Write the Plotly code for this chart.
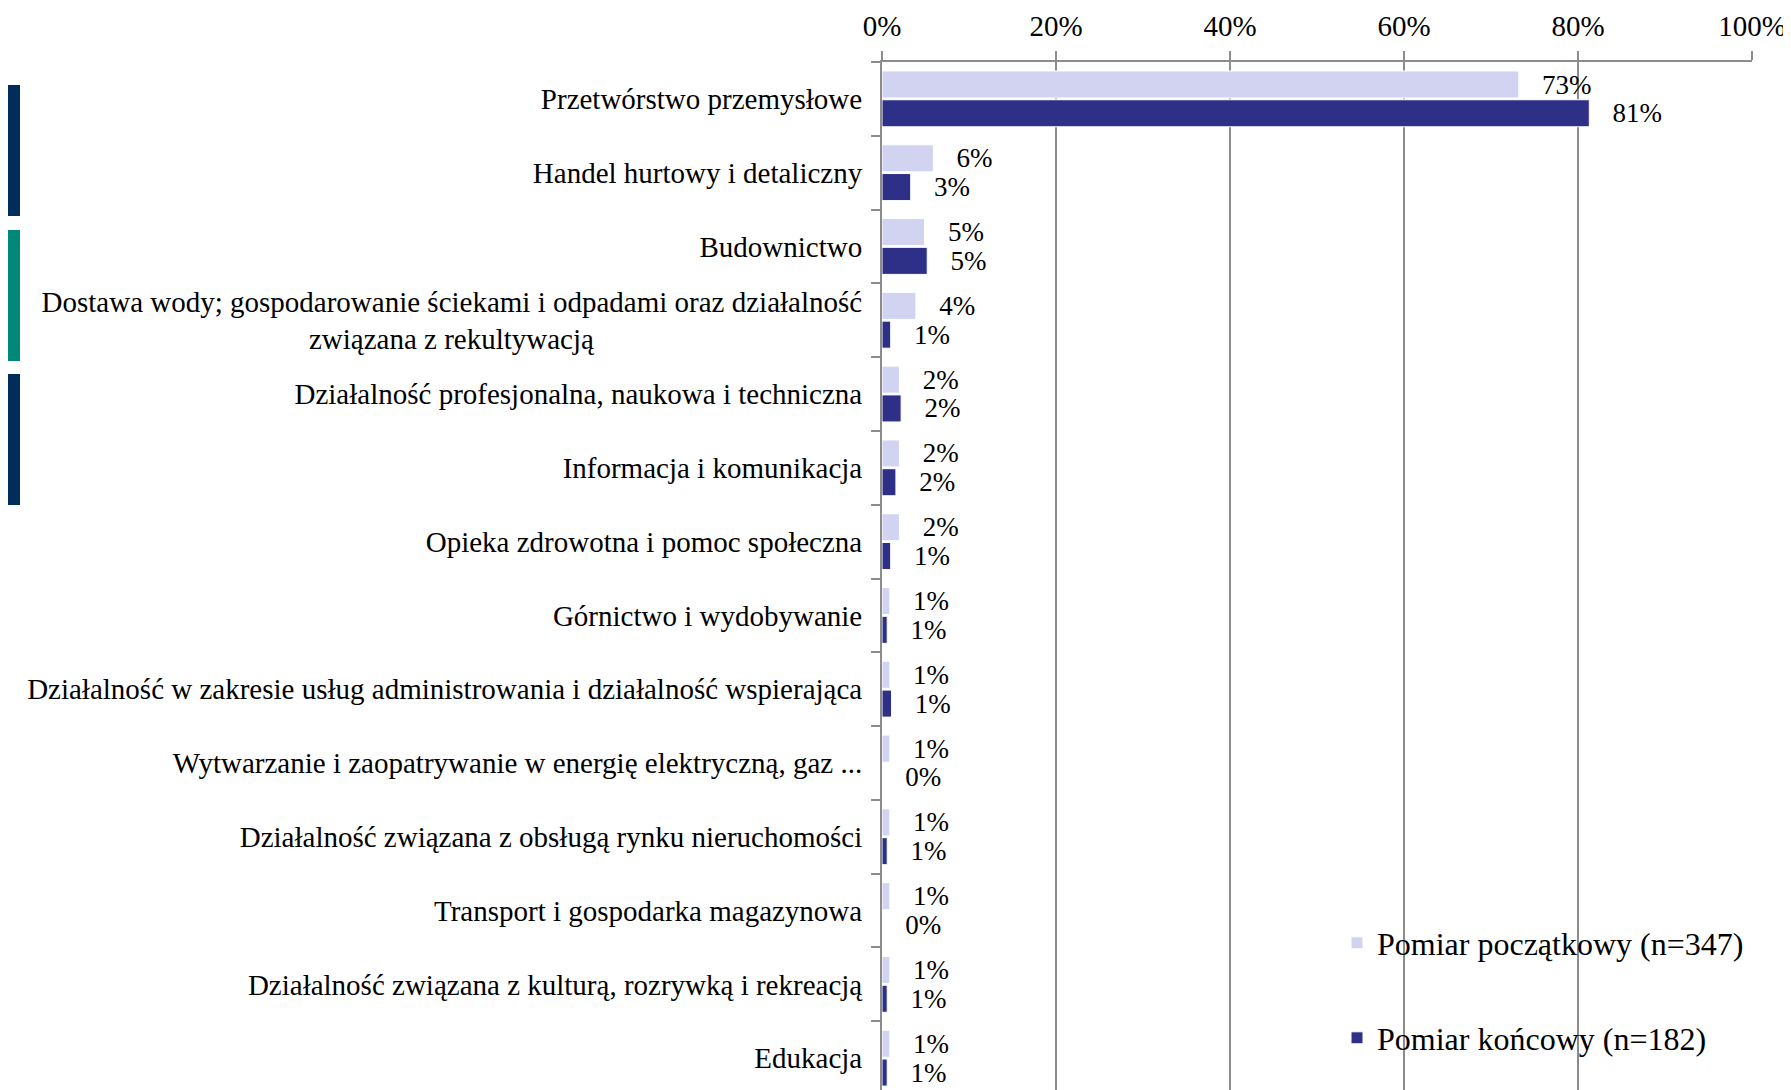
import plotly.graph_objects as go

# sectors, top to bottom
nbsp = "\u00a0"
categories = [
    "Przetwórstwo przemysłowe",
    "Handel hurtowy i detaliczny",
    "Budownictwo",
    "Dostawa wody; gospodarowanie ściekami i odpadami oraz działalność<br>związana z rekultywacją" + nbsp * 37,
    "Działalność profesjonalna, naukowa i techniczna",
    "Informacja i komunikacja",
    "Opieka zdrowotna i pomoc społeczna",
    "Górnictwo i wydobywanie",
    "Działalność w zakresie usług administrowania i działalność wspierająca",
    "Wytwarzanie i zaopatrywanie w energię elektryczną, gaz ...",
    "Działalność związana z obsługą rynku nieruchomości",
    "Transport i gospodarka magazynowa",
    "Działalność związana z kulturą, rozrywką i rekreacją",
    "Edukacja",
]
# share of companies, in %
pomiar_poczatkowy = [73.2, 5.9, 4.9, 3.9, 2.0, 2.0, 2.0, 0.9, 0.9, 0.9, 0.9, 0.9, 0.9, 0.9]
pomiar_koncowy = [81.3, 3.3, 5.2, 1.0, 2.2, 1.6, 1.0, 0.6, 1.1, 0.0, 0.6, 0.0, 0.6, 0.6]
x_ticks = [0, 20, 40, 60, 80, 100]
x_ticktext = [f"{v}%" for v in x_ticks]

W, H = 1791, 1090
OFF = 8  # page body margin
L, T, B = 882 - OFF, 62 - OFF, 0
R = W - (1752 - OFF)
FONT = "Liberation Serif"


def px_x(p):
    return (p - OFF - L) / (W - L - R)


def px_y(p):
    return 1 - (p - OFF - T) / (H - T - B)


fig = go.Figure()
fig.add_bar(
    y=categories, x=pomiar_poczatkowy, orientation="h",
    name="Pomiar początkowy (n=347)", legend="legend", showlegend=True,
    marker=dict(color="#D2D3F0", line=dict(color="white", width=1)),
    texttemplate=nbsp * 3 + "%{x:.0f}%", textposition="outside", constraintext="none",
    textfont=dict(size=27, color="black", family=FONT), cliponaxis=False,
)
fig.add_bar(
    y=categories, x=pomiar_koncowy, orientation="h",
    name="Pomiar końcowy (n=182)", legend="legend2", showlegend=True,
    marker=dict(color="#2E3088", line=dict(color="white", width=1)),
    texttemplate=nbsp * 3 + "%{x:.0f}%", textposition="outside", constraintext="none",
    textfont=dict(size=27, color="black", family=FONT), cliponaxis=False,
)

# decorative side strips
for y0, y1, col in [(85, 216, "#002D5A"), (230, 361, "#008878"), (374, 505, "#002D5A")]:
    fig.add_shape(type="rect", xref="paper", yref="paper",
                  x0=px_x(-20), x1=px_x(20), y0=px_y(y1), y1=px_y(y0),
                  fillcolor=col, line_width=0, layer="above")

legend_style = dict(
    font=dict(size=32, color="black", family=FONT),
    bgcolor="rgba(0,0,0,0)", xanchor="left", yanchor="middle", visible=True,
)
fig.update_layout(
    width=W, height=H,
    margin=dict(l=L, r=R, t=T, b=B, autoexpand=False),
    plot_bgcolor="white", paper_bgcolor="white",
    barmode="group", bargap=0.22, bargroupgap=0.06,
    font=dict(family=FONT, size=29, color="black"),
    showlegend=True,
    legend=dict(x=px_x(1337), y=px_y(943), **legend_style),
    legend2=dict(x=px_x(1337), y=px_y(1038), **legend_style),
    xaxis=dict(
        side="top", range=[0, 100], tickvals=x_ticks, ticktext=x_ticktext,
        showgrid=True, gridcolor="#8C8C8C", gridwidth=1.5,
        showline=True, linecolor="#8C8C8C", linewidth=2,
        ticks="outside", ticklen=9, tickcolor="#8C8C8C", tickwidth=1.5,
        tickfont=dict(size=29), zeroline=False, automargin=False,
        ticklabelstandoff=3,
    ),
    yaxis=dict(
        type="category", range=[13.54, -0.5],
        showline=True, linecolor="#8C8C8C", linewidth=2,
        ticks="outside", ticklen=9, tickcolor="#8C8C8C", tickwidth=1.5,
        tickson="boundaries", ticklabelstandoff=12,
        tickfont=dict(size=29), automargin=False,
    ),
)

fig.write_html("out.html")
